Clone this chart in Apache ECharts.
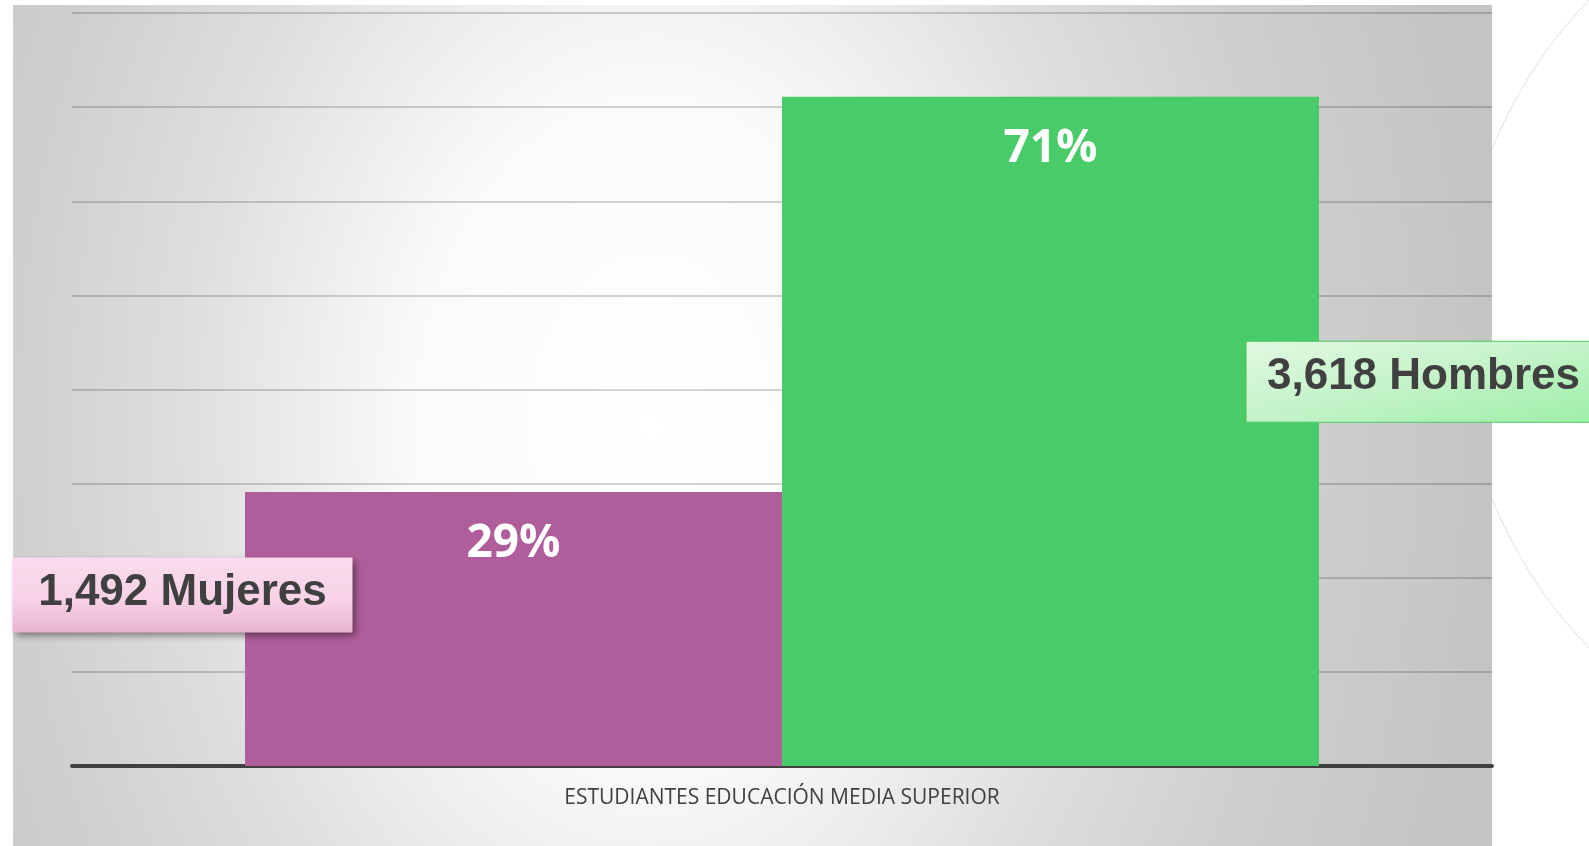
<!DOCTYPE html>
<html>
<head>
<meta charset="utf-8">
<script src="https://cdn.jsdelivr.net/npm/echarts@6/dist/echarts.min.js"></script>
<style>
html,body{margin:0;padding:0;background:#fff;}
#c{width:1589px;height:846px;}
</style>
</head>
<body>
<div id="c"></div>
<script>
const categories = ['ESTUDIANTES EDUCACIÓN MEDIA SUPERIOR'];
const seriesNames = ['Mujeres', 'Hombres'];
const counts = [1492, 3618];
const percentValues = [29.1, 71.1];
const percentLabels = ['29%', '71%'];
const yMin = 0;
const yMax = 80;
const yInterval = 10;

const chart = echarts.init(document.getElementById('c'));

const barColors = ['#b05e9b', '#48cb68'];

const boxStyles = [
  {
    size: [340, 75],
    offset: [-331, 103],
    textOffset: [0, -2],
    itemStyle: {
      color: new echarts.graphic.LinearGradient(0, 0, 0, 1, [
        {offset: 0, color: '#fbdcee'},
        {offset: 0.55, color: '#f8d2e6'},
        {offset: 1, color: '#e7b4cf'}
      ]),
      borderWidth: 0,
      shadowColor: 'rgba(0,0,0,0.45)', shadowBlur: 7, shadowOffsetX: 3, shadowOffsetY: 3
    }
  },
  {
    size: [358, 81],
    offset: [373, 285],
    textOffset: [0, -5],
    itemStyle: {
      color: new echarts.graphic.LinearGradient(0, 0, 1, 1, [
        {offset: 0, color: '#e2f9e2'},
        {offset: 0.5, color: '#c3f3c8'},
        {offset: 1, color: '#9cefa6'}
      ]),
      borderColor: '#4cc864', borderWidth: 2
    }
  }
];

const series = seriesNames.map((name, i) => ({
  name: name,
  type: 'bar',
  data: [percentValues[i]],
  barWidth: 537,
  barGap: '0%',
  itemStyle: {color: barColors[i]},
  label: {
    show: true,
    formatter: percentLabels[i],
    position: ['50%', 52],
    align: 'center',
    verticalAlign: 'middle',
    color: '#ffffff',
    fontFamily: 'Open Sans',
    fontWeight: 'bold',
    fontSize: 46
  },
  markPoint: {
    z: 10,
    symbol: 'rect',
    symbolSize: boxStyles[i].size,
    symbolOffset: boxStyles[i].offset,
    itemStyle: boxStyles[i].itemStyle,
    silent: true,
    data: [{coord: [0, percentValues[i]]}],
    label: {
      show: true,
      position: 'inside',
      offset: boxStyles[i].textOffset,
      formatter: counts[i].toLocaleString('en-US') + ' ' + name,
      align: 'center',
      verticalAlign: 'middle',
      color: '#404040',
      fontFamily: 'Liberation Sans',
      fontWeight: 'bold',
      fontSize: 44
    }
  }
}));

chart.setOption({
  animation: false,
  backgroundColor: '#ffffff',
  graphic: [
    {
      type: 'circle',
      z: -20,
      shape: {cx: 1924, cy: 324, r: 466},
      style: {fill: 'none', stroke: '#e2e2e2', lineWidth: 1}
    },
    {
      type: 'rect',
      z: -10,
      x: 13, y: 5,
      scaleX: 0.708,
      shape: {x: 0, y: 0, width: 2089, height: 841},
      style: {
        fill: new echarts.graphic.RadialGradient(0.431, 0.5, 1.427, [
          {offset: 0, color: '#ffffff'},
          {offset: 0.28, color: '#fafafa'},
          {offset: 0.55, color: '#dedede'},
          {offset: 0.75, color: '#cfcfcf'},
          {offset: 1, color: '#c4c4c4'}
        ])
      }
    }
  ],
  grid: {left: 72, right: 97, top: 13, bottom: 80, containLabel: false},
  xAxis: {
    type: 'category',
    data: categories,
    axisLine: {show: true, lineStyle: {color: '#404040', width: 4}},
    axisTick: {show: false},
    axisLabel: {
      color: '#404040',
      fontFamily: 'Open Sans',
      fontSize: 21,
      margin: 22
    }
  },
  yAxis: {
    type: 'value',
    min: yMin,
    max: yMax,
    interval: yInterval,
    axisLine: {show: false},
    axisTick: {show: false},
    axisLabel: {show: false},
    splitLine: {show: true, lineStyle: {color: 'rgba(0,0,0,0.17)', width: 2}}
  },
  series: series
});
</script>
</body>
</html>
